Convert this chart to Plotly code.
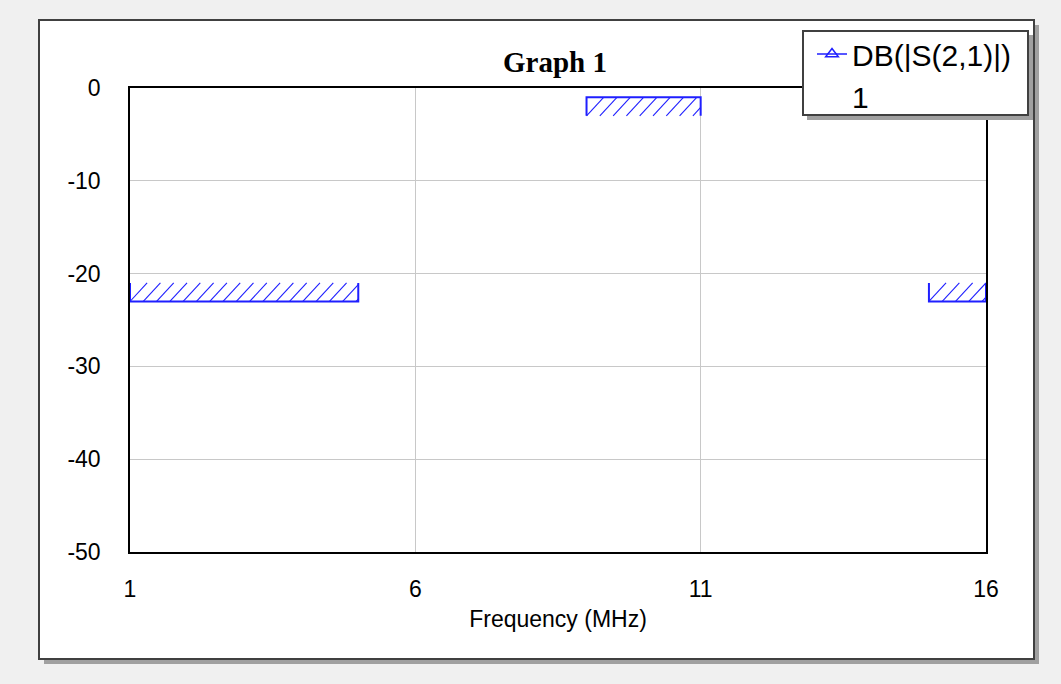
import plotly.graph_objects as go

# ---- data ----
freq_ticks = [1, 6, 11, 16]
db_ticks = [-50, -40, -30, -20, -10, 0]
goal_f_start = [1, 9, 15]
goal_f_stop = [5, 11, 16]
goal_db = [-23, -1, -23]
goal_side = [1, -1, 1]          # hatch drawn above (+1) or below (-1) the goal line
legend_names = ["DB(|S(2,1)|)", "1"]

# ---- style ----
W, H = 1061, 684
L, R, T, B = 130, 75, 88, 132
PW, PH = W - L - R, H - T - B
BLUE = "#1f1fff"
HATCH_H = 2.0      # dB
HATCH_SP = 0.233   # MHz
HATCH_DX = 0.30    # MHz

def px_x(p):
    return (p - L) / PW

def px_y(p):
    return (H - B - p) / PH

fig = go.Figure()

# goal outlines and hatching
for x0, x1, lvl, side in zip(goal_f_start, goal_f_stop, goal_db, goal_side):
    far = lvl + side * HATCH_H
    fig.add_trace(go.Scatter(
        x=[x0, x0, x1, x1], y=[far, lvl, lvl, far], mode="lines",
        line=dict(color=BLUE, width=2), showlegend=False, hoverinfo="skip"))
    lo, hi = min(lvl, far), max(lvl, far)
    hx, hy = [], []
    k = 0
    while True:
        xb = x0 + k * HATCH_SP
        if xb >= x1 - 1e-9:
            break
        xe = xb + HATCH_DX
        ye = hi
        if xe > x1:
            ye = lo + (x1 - xb) / HATCH_DX * (hi - lo)
            xe = x1
        hx += [xb, xe, None]
        hy += [lo, ye, None]
        k += 1
    fig.add_trace(go.Scatter(
        x=hx, y=hy, mode="lines", line=dict(color=BLUE, width=1.1),
        showlegend=False, hoverinfo="skip"))

# legend entries
fig.add_trace(go.Scatter(
    x=[None], y=[None], mode="lines+markers", name=legend_names[0],
    line=dict(color=BLUE, width=1.5),
    marker=dict(symbol="triangle-up-open", size=11, color=BLUE, line=dict(width=1.5))))
fig.add_trace(go.Scatter(
    x=[None], y=[None], mode="lines", name=legend_names[1],
    line=dict(color="rgba(0,0,0,0)", width=1)))

shapes = [
    # outer frame shadow + frame
    dict(type="rect", xref="paper", yref="paper", layer="below",
         x0=px_x(44), x1=px_x(1039), y0=px_y(25), y1=px_y(664),
         fillcolor="#a0a0a0", line=dict(width=0)),
    dict(type="rect", xref="paper", yref="paper", layer="below",
         x0=px_x(39), x1=px_x(1034), y0=px_y(20), y1=px_y(659),
         fillcolor="white", line=dict(color="#404040", width=2)),
    # legend box shadow + box
    dict(type="rect", xref="paper", yref="paper", layer="above",
         x0=px_x(807), x1=px_x(1033), y0=px_y(35), y1=px_y(120),
         fillcolor="#a0a0a0", line=dict(width=0)),
    dict(type="rect", xref="paper", yref="paper", layer="above",
         x0=px_x(803), x1=px_x(1028), y0=px_y(31), y1=px_y(115),
         fillcolor="white", line=dict(color="#404040", width=2)),
]

FONT = "Liberation Sans, Arial, sans-serif"
fig.update_layout(
    width=W, height=H, autosize=False,
    margin=dict(l=L, r=R, t=T, b=B),
    paper_bgcolor="#f0f0f0", plot_bgcolor="rgba(0,0,0,0)",
    font=dict(family=FONT, size=23, color="black"),
    title=dict(text="<b>Graph 1</b>", xref="container", yref="container",
               x=555 / W, y=1 - 62 / H, xanchor="center", yanchor="middle",
               font=dict(family="Liberation Serif, Times New Roman, serif", size=29, color="black")),
    shapes=shapes,
    showlegend=True,
    hovermode=False,
    legend=dict(x=px_x(812), y=px_y(28), xanchor="left", yanchor="top",
                bgcolor="rgba(0,0,0,0)", borderwidth=0,
                font=dict(family=FONT, size=30, color="black"),
                tracegroupgap=0, itemclick=False, itemdoubleclick=False),
)
fig.update_xaxes(range=[1, 16], tickvals=freq_ticks, ticktext=[str(v) for v in freq_ticks],
                 showgrid=True, gridcolor="#c8c8c8", gridwidth=1,
                 showline=True, linecolor="black", linewidth=1.5, mirror=True,
                 ticks="", ticklabelstandoff=16, zeroline=False,
                 title=dict(text="Frequency (MHz)", standoff=10, font=dict(size=23)))
fig.update_yaxes(range=[-50, 0], tickvals=db_ticks, ticktext=[str(v) for v in db_ticks],
                 showgrid=True, gridcolor="#c8c8c8", gridwidth=1,
                 showline=True, linecolor="black", linewidth=1.5, mirror=True,
                 ticks="", ticklabelstandoff=23, zeroline=False)

fig.write_html("out.html", config={"displayModeBar": False},
               post_script="document.body.style.margin='0';")
